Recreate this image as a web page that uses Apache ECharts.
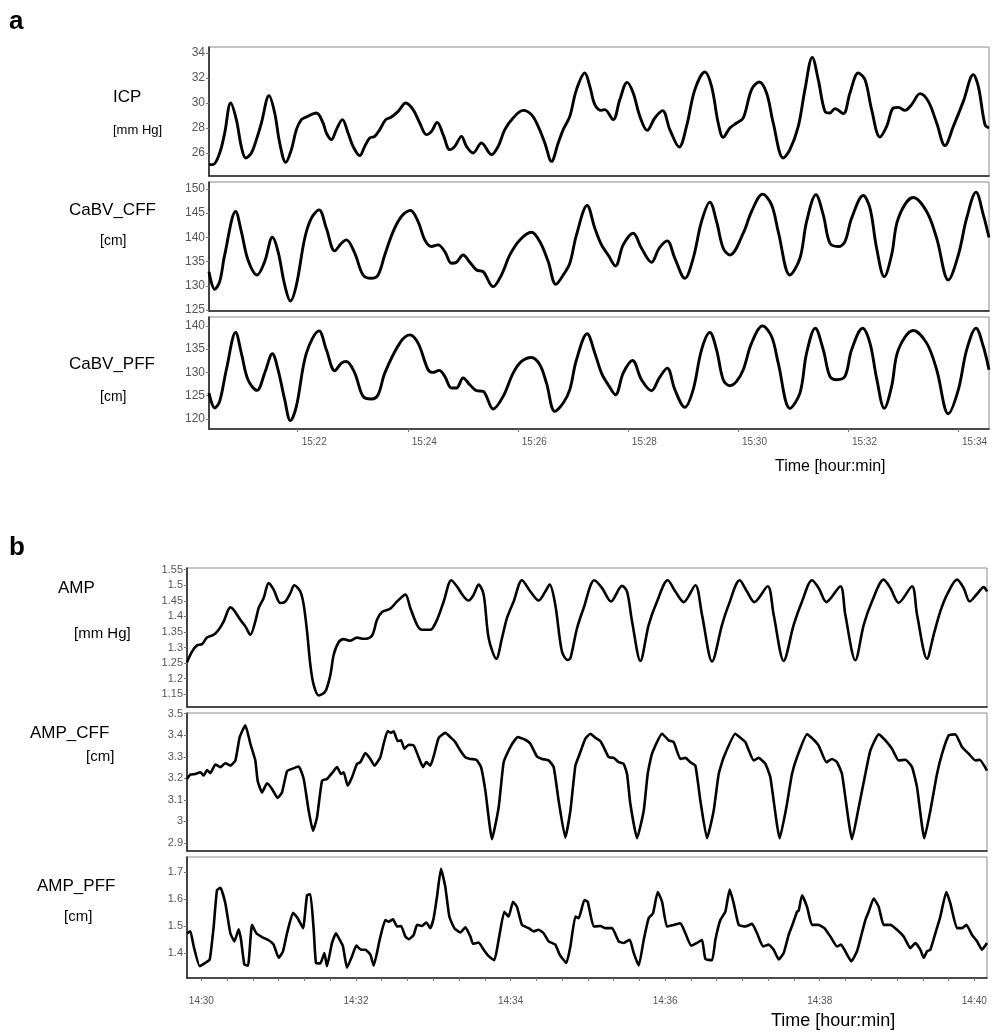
<!DOCTYPE html>
<html>
<head>
<meta charset="utf-8">
<script src="https://cdn.jsdelivr.net/npm/echarts@6/dist/echarts.min.js"></script>
<style>
html, body { margin: 0; padding: 0; background: #fff; }
#chart { width: 995px; height: 1032px; }
</style>
</head>
<body>
<div id="chart"></div>
<script>
// time is minutes after the hour: panel a = 15:xx, panel b = 14:xx
var icp = [[20.388,25.07],[20.461,25.07],[20.582,26.0],[20.673,27.6],[20.782,30.0],[20.885,28.67],[20.976,26.5],[21.055,25.6],[21.158,26.0],[21.249,27.07],[21.34,28.4],[21.479,30.59],[21.582,29.2],[21.673,26.8],[21.782,25.25],[21.885,26.27],[21.976,27.87],[22.067,28.67],[22.158,28.88],[22.34,29.2],[22.461,28.4],[22.521,27.6],[22.612,27.07],[22.703,27.87],[22.812,28.67],[22.915,27.6],[23.006,26.53],[23.128,25.79],[23.218,26.53],[23.309,27.2],[23.4,27.33],[23.491,27.87],[23.6,28.67],[23.703,28.88],[23.825,29.33],[23.964,30.0],[24.097,29.47],[24.218,28.4],[24.34,27.47],[24.431,27.73],[24.534,28.45],[24.643,27.47],[24.764,26.27],[24.855,26.53],[24.976,27.33],[25.067,26.53],[25.188,26.0],[25.34,26.8],[25.521,25.87],[25.643,26.53],[25.764,27.87],[25.915,28.8],[26.097,29.41],[26.249,29.07],[26.37,28.13],[26.491,26.8],[26.612,25.33],[26.734,26.8],[26.825,27.87],
  [26.945,28.93],[27.066,31.07],[27.218,32.4],[27.309,31.33],[27.4,29.87],[27.521,29.41],[27.581,29.47],[27.733,28.67],[27.854,30.27],[27.987,31.65],[28.097,30.8],[28.218,28.93],[28.351,27.81],[28.49,28.8],[28.63,29.39],[28.763,27.87],[28.933,26.48],[29.066,28.13],[29.218,31.07],[29.4,32.48],[29.521,31.33],[29.642,28.4],[29.733,27.25],[29.854,28.0],[29.975,28.4],[30.097,28.8],[30.248,31.07],[30.387,31.68],[30.521,30.8],[30.642,28.4],[30.824,25.6],[30.945,26.27],[31.097,28.13],[31.218,31.07],[31.351,33.65],[31.46,31.87],[31.581,29.33],[31.672,29.2],[31.763,29.55],[31.915,29.15],[32.036,30.8],[32.187,32.4],[32.309,31.87],[32.43,29.47],[32.581,27.28],[32.703,28.13],[32.824,29.6],[32.915,29.65],[33.036,29.41],[33.157,29.87],[33.309,30.75],[33.46,30.13],[33.612,28.4],[33.763,26.59],[33.915,28.13],[34.097,30.13],[34.278,32.27],[34.369,31.33],[34.49,28.27],[34.563,28.0]];

var cabvCff = [[20.388,132.9],[20.491,129.27],[20.582,130.85],[20.673,136.36],[20.873,145.32],[20.976,141.18],[21.097,135.33],[21.261,132.23],[21.4,134.99],[21.54,140.01],[21.643,137.05],[21.764,130.17],[21.867,126.86],[21.976,130.17],[22.128,139.81],[22.249,143.94],[22.388,145.66],[22.521,141.87],[22.673,137.19],[22.794,138.77],[22.885,139.46],[23.037,136.71],[23.188,132.23],[23.34,131.54],[23.461,132.23],[23.582,136.36],[23.734,141.18],[23.885,144.28],[24.049,145.52],[24.188,143.25],[24.309,139.46],[24.431,138.09],[24.552,138.43],[24.673,137.05],[24.794,134.64],[24.885,134.85],[25.006,136.36],[25.128,134.85],[25.249,133.26],[25.37,132.92],[25.552,129.82],[25.703,132.23],[25.855,136.36],[26.037,139.46],[26.249,141.05],[26.4,139.12],[26.552,134.99],[26.691,130.3],[26.825,132.23],
  [26.945,134.64],[27.066,140.5],[27.26,146.56],[27.4,141.87],[27.521,138.43],[27.642,136.36],[27.775,134.09],[27.915,138.43],[28.097,140.84],[28.248,137.74],[28.43,134.85],[28.569,137.74],[28.715,139.26],[28.854,135.67],[29.036,131.54],[29.187,135.67],[29.339,143.25],[29.49,147.25],[29.612,143.25],[29.733,137.74],[29.854,136.36],[30.097,140.84],[30.248,145.32],[30.448,148.9],[30.612,146.69],[30.733,141.18],[30.945,132.23],[31.127,135.67],[31.248,143.25],[31.418,148.76],[31.551,144.63],[31.672,138.77],[31.824,138.09],[31.945,139.12],[32.066,143.94],[32.278,148.62],[32.4,146.0],[32.521,137.74],[32.66,131.89],[32.793,136.36],[32.915,143.94],[33.187,148.21],[33.43,145.32],[33.612,139.81],[33.824,131.2],[34.006,136.36],[34.157,143.94],[34.327,149.31],[34.46,144.63],[34.563,139.95]];

var cabvPff = [[20.388,125.57],[20.491,122.36],[20.582,123.79],[20.703,130.57],[20.873,138.57],[20.976,134.14],[21.097,128.43],[21.261,126.14],[21.4,129.86],[21.54,134.0],[21.643,130.57],[21.764,124.14],[21.867,119.64],[21.976,122.71],[22.158,134.14],[22.388,138.93],[22.521,134.86],[22.673,130.36],[22.794,132.0],[22.885,132.36],[23.037,129.86],[23.188,124.86],[23.34,124.29],[23.461,125.21],[23.582,129.86],[23.855,136.29],[24.037,138.07],[24.188,136.29],[24.37,130.57],[24.461,130.0],[24.57,130.43],[24.673,129.14],[24.794,126.64],[24.885,126.64],[25.006,128.79],[25.128,127.36],[25.249,126.07],[25.37,125.93],[25.552,122.14],[25.734,124.86],[25.915,129.86],[26.067,132.36],[26.249,133.21],[26.4,131.64],[26.521,127.71],[26.673,121.64],[26.825,123.43],
  [26.945,126.29],[27.066,132.71],[27.26,138.29],[27.4,134.14],[27.521,129.86],[27.642,127.36],[27.775,125.21],[27.915,129.86],[28.084,132.57],[28.248,128.43],[28.43,126.07],[28.569,128.79],[28.715,130.93],[28.854,126.29],[29.036,122.5],[29.187,126.29],[29.339,134.86],[29.49,138.57],[29.612,134.86],[29.733,128.43],[29.854,127.14],[29.975,128.07],[30.097,130.57],[30.248,136.29],[30.448,140.0],[30.612,137.71],[30.733,132.0],[30.945,122.29],[31.127,125.57],[31.248,134.14],[31.406,139.5],[31.551,134.86],[31.672,129.14],[31.793,128.43],[31.945,129.14],[32.066,134.86],[32.266,139.5],[32.4,136.29],[32.521,128.71],[32.66,122.29],[32.793,127.0],[32.915,134.86],[33.187,139.0],[33.43,136.29],[33.612,130.57],[33.824,121.14],[34.006,126.29],[34.157,134.86],[34.327,139.5],[34.46,135.57],[34.563,130.57]];

var amp = [[29.814,1.253],[29.879,1.287],[29.944,1.307],[30.008,1.311],[30.073,1.332],[30.159,1.341],[30.224,1.357],[30.289,1.384],[30.375,1.429],[30.418,1.421],[30.504,1.389],[30.569,1.368],[30.634,1.341],[30.698,1.384],[30.741,1.427],[30.806,1.459],[30.871,1.507],[30.935,1.486],[31.022,1.443],[31.086,1.448],[31.151,1.475],[31.203,1.5],[31.28,1.48],[31.324,1.437],[31.367,1.352],[31.41,1.244],[31.453,1.18],[31.518,1.146],[31.604,1.159],[31.669,1.212],[31.712,1.277],[31.776,1.317],[31.841,1.327],[31.927,1.322],[32.013,1.332],[32.1,1.328],[32.207,1.338],[32.272,1.389],[32.337,1.414],[32.445,1.425],[32.531,1.448],[32.639,1.47],[32.703,1.427],[32.79,1.373],[32.854,1.357],[32.962,1.357],[33.048,1.389],[33.135,1.448],[33.234,1.516],[33.307,1.496],[33.393,1.464],[33.458,1.451],[33.523,1.47],[33.587,1.502],[33.652,1.47],[33.717,1.33],[33.816,1.264],[33.889,1.33],[33.954,1.395],[34.04,1.448],[34.148,1.516],[34.256,1.48],[34.363,1.451],[34.45,1.48],[34.506,1.502],[34.579,1.437],[34.665,1.287],[34.739,1.26],
  [34.774,1.266],[34.86,1.362],[34.946,1.427],[35.084,1.516],[35.184,1.491],[35.3,1.448],[35.442,1.498],[35.507,1.48],[35.572,1.384],[35.68,1.257],[35.787,1.373],[35.895,1.448],[36.033,1.516],[36.132,1.48],[36.24,1.446],[36.391,1.5],[36.477,1.405],[36.607,1.255],[36.736,1.373],[36.822,1.437],[36.964,1.516],[37.059,1.48],[37.154,1.446],[37.327,1.497],[37.404,1.405],[37.534,1.257],[37.663,1.373],[37.771,1.448],[37.9,1.516],[37.986,1.491],[38.086,1.446],[38.267,1.497],[38.331,1.405],[38.461,1.259],[38.569,1.373],[38.676,1.448],[38.827,1.518],[38.914,1.491],[39.021,1.444],[39.194,1.497],[39.259,1.405],[39.388,1.264],[39.474,1.341],[39.56,1.416],[39.647,1.47],[39.776,1.518],[39.862,1.491],[39.94,1.448],[40.035,1.472],[40.121,1.494],[40.164,1.48]];

var ampCff = [[29.814,3.197],[29.857,3.217],[29.922,3.22],[29.987,3.228],[30.03,3.213],[30.073,3.239],[30.116,3.224],[30.181,3.264],[30.246,3.252],[30.31,3.27],[30.375,3.259],[30.44,3.283],[30.496,3.391],[30.569,3.446],[30.634,3.36],[30.698,3.283],[30.728,3.189],[30.785,3.135],[30.849,3.177],[30.914,3.151],[30.987,3.109],[31.043,3.135],[31.108,3.233],[31.173,3.244],[31.259,3.255],[31.324,3.197],[31.388,3.05],[31.444,2.957],[31.496,3.019],[31.561,3.189],[31.625,3.197],[31.69,3.224],[31.755,3.252],[31.806,3.22],[31.841,3.228],[31.893,3.166],[31.949,3.205],[32.013,3.267],[32.057,3.275],[32.121,3.317],[32.186,3.29],[32.238,3.259],[32.315,3.298],[32.358,3.36],[32.41,3.419],[32.453,3.411],[32.488,3.418],[32.54,3.373],[32.583,3.376],[32.626,3.337],[32.682,3.356],[32.747,3.352],[32.811,3.298],[32.867,3.252],[32.91,3.275],[32.962,3.259],[33.014,3.314],[33.07,3.388],[33.156,3.411],[33.221,3.391],[33.285,3.368],[33.35,3.329],[33.415,3.298],[33.48,3.29],[33.557,3.286],[33.618,3.252],[33.674,3.143],[33.76,2.918],[33.846,3.065],[33.911,3.275],[33.997,3.345],[34.092,3.391],[34.191,3.379],[34.256,3.36],[34.342,3.301],[34.407,3.29],[34.493,3.283],[34.558,3.252],[34.622,3.096],[34.708,2.925],
  [34.774,3.05],[34.839,3.259],[34.895,3.314],[34.968,3.384],[35.033,3.407],[35.097,3.388],[35.162,3.373],[35.205,3.345],[35.27,3.298],[35.335,3.295],[35.399,3.275],[35.464,3.267],[35.507,3.22],[35.55,3.081],[35.636,2.922],[35.723,3.05],[35.774,3.22],[35.83,3.314],[35.96,3.407],[36.046,3.376],[36.111,3.368],[36.197,3.29],[36.262,3.295],[36.326,3.275],[36.391,3.259],[36.456,3.096],[36.542,2.922],[36.628,3.05],[36.693,3.22],[36.758,3.298],[36.908,3.407],[36.973,3.388],[37.038,3.368],[37.146,3.283],[37.21,3.295],[37.297,3.267],[37.361,3.205],[37.482,2.922],[37.568,3.065],[37.641,3.22],[37.706,3.298],[37.836,3.404],[37.922,3.379],[37.986,3.352],[38.086,3.275],[38.159,3.29],[38.224,3.275],[38.288,3.22],[38.418,2.918],[38.504,3.065],[38.59,3.22],[38.655,3.329],[38.763,3.404],[38.849,3.376],[38.935,3.337],[39.021,3.283],[39.108,3.286],[39.194,3.252],[39.259,3.158],[39.353,2.922],[39.431,3.05],[39.517,3.22],[39.582,3.314],[39.668,3.399],[39.754,3.404],[39.841,3.345],[39.927,3.314],[40.013,3.283],[40.069,3.286],[40.164,3.236]];

var ampPff = [[29.814,1.473],[29.857,1.48],[29.901,1.424],[29.978,1.351],[30.051,1.363],[30.108,1.376],[30.159,1.498],[30.202,1.633],[30.246,1.642],[30.31,1.584],[30.375,1.473],[30.427,1.443],[30.483,1.488],[30.513,1.449],[30.556,1.357],[30.603,1.353],[30.655,1.504],[30.711,1.473],[30.785,1.459],[30.871,1.447],[30.935,1.431],[31.0,1.382],[31.056,1.406],[31.108,1.473],[31.186,1.549],[31.246,1.529],[31.315,1.492],[31.367,1.614],[31.41,1.618],[31.453,1.486],[31.483,1.363],[31.539,1.361],[31.591,1.4],[31.625,1.351],[31.69,1.437],[31.742,1.473],[31.789,1.449],[31.832,1.424],[31.884,1.345],[31.949,1.388],[32.005,1.427],[32.065,1.412],[32.121,1.412],[32.186,1.394],[32.229,1.353],[32.307,1.449],[32.38,1.522],[32.423,1.516],[32.479,1.525],[32.531,1.498],[32.583,1.5],[32.639,1.461],[32.682,1.451],[32.747,1.467],[32.79,1.504],[32.854,1.5],[32.91,1.513],[32.962,1.492],[33.005,1.529],[33.048,1.608],[33.1,1.712],[33.156,1.645],[33.208,1.535],[33.273,1.492],[33.35,1.476],[33.415,1.495],[33.48,1.461],[33.514,1.434],[33.587,1.439],[33.652,1.412],[33.717,1.388],[33.79,1.373],[33.846,1.449],[33.919,1.553],[33.975,1.535],[34.032,1.59],[34.083,1.571],[34.148,1.504],[34.234,1.492],[34.299,1.48],[34.363,1.486],[34.428,1.473],[34.493,1.443],[34.579,1.431],[34.635,1.394],[34.721,1.363],
  [34.774,1.424],[34.839,1.535],[34.882,1.529],[34.955,1.596],[34.998,1.59],[35.076,1.498],[35.162,1.5],[35.227,1.492],[35.313,1.492],[35.399,1.443],[35.464,1.437],[35.542,1.449],[35.593,1.4],[35.658,1.353],[35.723,1.449],[35.787,1.529],[35.843,1.547],[35.904,1.626],[35.96,1.59],[36.024,1.498],[36.111,1.504],[36.197,1.51],[36.262,1.473],[36.335,1.427],[36.413,1.437],[36.477,1.449],[36.52,1.378],[36.607,1.373],[36.65,1.449],[36.714,1.522],[36.779,1.553],[36.835,1.635],[36.887,1.584],[36.952,1.504],[37.038,1.498],[37.124,1.508],[37.189,1.473],[37.266,1.424],[37.34,1.431],[37.404,1.412],[37.469,1.376],[37.534,1.4],[37.598,1.467],[37.654,1.51],[37.706,1.553],[37.728,1.557],[37.771,1.614],[37.836,1.571],[37.9,1.504],[37.986,1.504],[38.06,1.492],[38.137,1.461],[38.224,1.424],[38.275,1.431],[38.331,1.406],[38.409,1.369],[38.482,1.406],[38.534,1.461],[38.59,1.522],[38.633,1.553],[38.698,1.602],[38.763,1.571],[38.827,1.504],[38.914,1.504],[39.0,1.486],[39.086,1.461],[39.172,1.418],[39.237,1.437],[39.302,1.412],[39.345,1.382],[39.388,1.406],[39.431,1.412],[39.496,1.473],[39.56,1.535],[39.638,1.626],[39.69,1.584],[39.776,1.492],[39.841,1.492],[39.897,1.504],[39.97,1.467],[40.035,1.443],[40.099,1.412],[40.164,1.437]];

// tick labels
var timeTicksA = [22, 24, 26, 28, 30, 32, 34];
var timeTicksB = [30, 32, 34, 36, 38, 40];
var icpTicks = [26, 28, 30, 32, 34];
var cabvCffTicks = [125, 130, 135, 140, 145, 150];
var cabvPffTicks = [120, 125, 130, 135, 140];
var ampTicks = [1.15, 1.2, 1.25, 1.3, 1.35, 1.4, 1.45, 1.5, 1.55];
var ampCffTicks = [2.9, 3, 3.1, 3.2, 3.3, 3.4, 3.5];
var ampPffTicks = [1.4, 1.5, 1.6, 1.7];

var minorB = [];
for (var i = 0; i <= 30; i++) minorB.push(30 + i / 3);

var FONT = '"Liberation Sans", Arial, sans-serif';

function pad(m) { m = Math.round(m); return (m < 10 ? '0' : '') + m; }
function num(v) { return String(Math.round(v * 100) / 100); }

var panels = [
    { data: icp, ticks: icpTicks, ymin: 24.16, ymax: 34.48, grid: { left: 209, top: 47, width: 780, height: 129 }, xr: [20.388, 34.563], hour: 15, smooth: 0.35, lw: 2.9, ls: 12 },
    { data: cabvCff, ticks: cabvCffTicks, ymin: 124.8, ymax: 151.4, grid: { left: 209, top: 182, width: 780, height: 129 }, xr: [20.388, 34.563], hour: 15, smooth: 0.35, lw: 2.9, ls: 12 },
    { data: cabvPff, ticks: cabvPffTicks, ymin: 117.85, ymax: 141.9, grid: { left: 209, top: 317, width: 780, height: 112 }, xr: [20.388, 34.563], hour: 15, smooth: 0.35, lw: 2.9, ls: 12, xlab: timeTicksA },
    { data: amp, ticks: ampTicks, ymin: 1.109, ymax: 1.5555, grid: { left: 187, top: 568, width: 800, height: 139 }, xr: [29.814, 40.164], hour: 14, smooth: 0.3, lw: 2.6, ls: 11 },
    { data: ampCff, ticks: ampCffTicks, ymin: 2.863, ymax: 3.503, grid: { left: 187, top: 713, width: 800, height: 138 }, xr: [29.814, 40.164], hour: 14, smooth: 0.15, lw: 2.6, ls: 11 },
    { data: ampPff, ticks: ampPffTicks, ymin: 1.307, ymax: 1.756, grid: { left: 187, top: 857, width: 800, height: 121 }, xr: [29.814, 40.164], hour: 14, smooth: 0.15, lw: 2.6, ls: 11, xlab: timeTicksB }
];

var grids = [], xAxes = [], yAxes = [], series = [];
panels.forEach(function (p, k) {
    grids.push(Object.assign({ show: true, borderColor: '#8c8c8c', borderWidth: 1, backgroundColor: '#fff' }, p.grid));
    var isA = p.hour === 15;
    var xa = {
        type: 'value', gridIndex: k, min: p.xr[0], max: p.xr[1],
        axisLine: { show: true, onZero: false, lineStyle: { color: '#222', width: 1.6 } },
        splitLine: { show: false },
        axisTick: { show: false },
        axisLabel: { show: false }
    };
    if (p.xlab) {
        xa.axisTick = { show: true, length: 3, lineStyle: { color: '#777' }, customValues: isA ? p.xlab : minorB };
        xa.axisLabel = {
            show: true, customValues: p.xlab, color: '#555', fontFamily: FONT, fontSize: 10,
            margin: isA ? 8 : 18, align: isA ? 'left' : 'center', padding: isA ? [0, 0, 0, 4] : 0,
            formatter: function (v) { return p.hour + ':' + pad(v); }
        };
    }
    xAxes.push(xa);
    yAxes.push({
        type: 'value', gridIndex: k, min: p.ymin, max: p.ymax,
        axisLine: { show: true, lineStyle: { color: '#222', width: 1.6 } },
        splitLine: { show: false },
        axisTick: { show: true, length: 3, customValues: p.ticks, lineStyle: { color: '#777' } },
        axisLabel: { customValues: p.ticks, color: '#555', fontFamily: FONT, fontSize: p.ls, margin: 4, formatter: num }
    });
    series.push({
        type: 'line', xAxisIndex: k, yAxisIndex: k, data: p.data,
        showSymbol: false, smooth: p.smooth, animation: false,
        lineStyle: { color: '#000', width: p.lw }
    });
});

function label(text, x, y, size, weight) {
    return {
        type: 'text', x: x, y: y,
        style: { text: text, font: (weight || 'normal') + ' ' + size + 'px ' + FONT, fill: '#000', verticalAlign: 'middle', textVerticalAlign: 'middle' }
    };
}

var texts = [
    label('a', 9, 22, 26, 'bold'),
    label('ICP', 113, 97, 17),
    label('[mm Hg]', 113, 130, 13),
    label('CaBV_CFF', 69, 210, 17),
    label('[cm]', 100, 241, 14),
    label('CaBV_PFF', 69, 364, 17),
    label('[cm]', 100, 397, 14),
    label('Time [hour:min]', 775, 467, 16),
    label('b', 9, 548, 26, 'bold'),
    label('AMP', 58, 588, 17),
    label('[mm Hg]', 74, 634, 15),
    label('AMP_CFF', 30, 733, 17),
    label('[cm]', 86, 757, 15),
    label('AMP_PFF', 37, 886, 17),
    label('[cm]', 64, 917, 15),
    label('Time [hour:min]', 771, 1021, 18)
];

var myChart = echarts.init(document.getElementById('chart'));
myChart.setOption({
    backgroundColor: '#fff',
    animation: false,
    grid: grids,
    xAxis: xAxes,
    yAxis: yAxes,
    series: series,
    graphic: texts
});
</script>
</body>
</html>
